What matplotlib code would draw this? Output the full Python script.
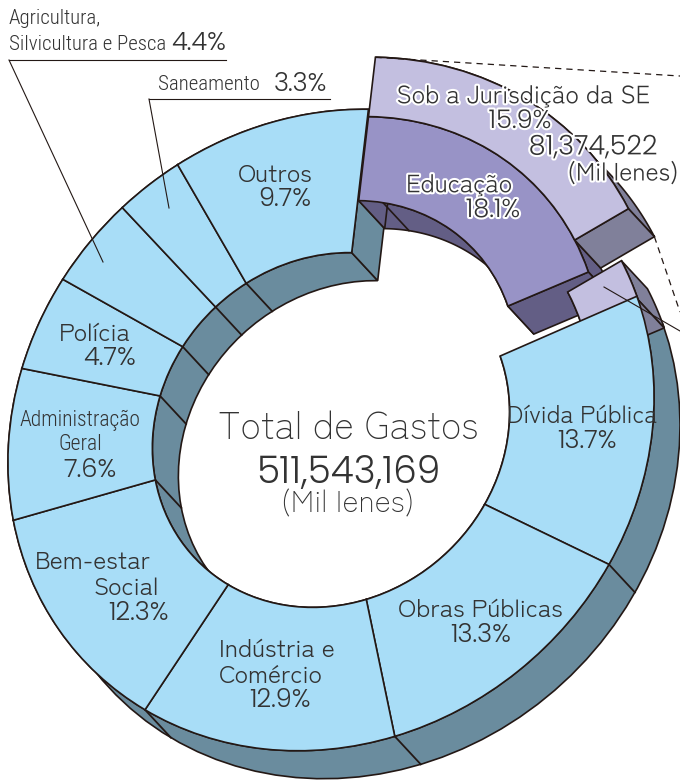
import numpy as np
import logging
import matplotlib
matplotlib.use("Agg")
import matplotlib.pyplot as plt
from matplotlib.patches import Wedge, Polygon
from matplotlib.transforms import Affine2D
import matplotlib.patheffects as pe

logging.getLogger('matplotlib.font_manager').setLevel(logging.ERROR)

# values (percent), clockwise starting at Divida Publica
main_names = ["Dívida Pública", "Obras Públicas", "Indústria e Comércio", "Bem-estar Social",
              "Administração Geral", "Polícia", "Agricultura, Silvicultura e Pesca", "Saneamento", "Outros"]
main_values = [13.7, 13.3, 12.9, 12.3, 7.6, 4.7, 4.4, 3.3, 9.7]
education_total = 18.1
education_se = 15.9
total_label = "511,543,169"
se_label = "81,374,522"

RING = "#A8DDF7"; RING_W = "#6A8C9E"
EDU = "#9893C6"; EDU_W = "#635E85"
SE = "#C3BFE0"; SE_W = "#80809A"
INK = "#231815"; TXT = "#333333"

MAIN_FONT = ['Zen Kaku Gothic New', 'Noto Sans', 'DejaVu Sans']
NUM_FONT = ['Poppins', 'Noto Sans', 'DejaVu Sans']
NARROW = ['Roboto Condensed', 'Liberation Sans Narrow', 'Roboto', 'DejaVu Sans']
plt.rcParams['font.family'] = MAIN_FONT
fig = plt.figure(figsize=(6.8, 7.81), dpi=100)
ax = fig.add_axes([0, 0, 1, 1])
ax.set_xlim(0, 680); ax.set_ylim(781, 0); ax.axis('off')

geom = Affine2D().scale(338, 305).rotate_deg(43).scale(1, -1).translate(331, 430)
DEPTH = np.array([26.0, 28.0])
LIFT = np.array([7.0, -52.0])
R_IN, R_MID = 0.553, 0.815
LW = 1.2
DEG = 360 / 99.8
START = -21.3


def pts(r, a1, a2, shift=(0, 0)):
    t = np.radians(np.linspace(a1, a2, 80))
    return geom.transform(np.c_[r * np.cos(t), r * np.sin(t)]) + np.asarray(shift)


def bands(a1, a2, r0, r1, color, shift=(0, 0), z=1):
    for r in (r0, r1):
        p = pts(r, a1, a2, shift)
        ax.add_patch(Polygon(np.r_[p, (p + DEPTH)[::-1]], closed=True, fc=color, ec=INK, lw=LW, zorder=z))


def cap(a, r0, r1, color, shift=(0, 0), z=1):
    q0 = pts(r0, a, a, shift)[0]; q1 = pts(r1, a, a, shift)[0]
    ax.add_patch(Polygon([q0, q1, q1 + DEPTH, q0 + DEPTH], closed=True, fc=color, ec=INK, lw=LW, zorder=z))


def top(a1, a2, r0, r1, color, shift=(0, 0), z=5):
    tr = geom + Affine2D().translate(*shift) + ax.transData
    ax.add_patch(Wedge((0, 0), r1, a1, a2, width=r1 - r0, fc=color, ec=INK, lw=LW, transform=tr, zorder=z))


# main ring
edges = START - np.r_[0, np.cumsum(main_values)] * DEG
bands(edges[-1], edges[0], R_IN, 1.0, RING_W, z=1)
cap(edges[-1], R_IN, 1.0, RING_W, z=1)
for a in edges[1:-1]:
    for r in (R_IN, 1.0):
        p = pts(r, a, a)[0]
        ax.plot([p[0], p[0] + DEPTH[0]], [p[1], p[1] + DEPTH[1]], color=INK, lw=1.3, zorder=1.5)
for v in range(len(main_values)):
    top(edges[v + 1], edges[v], R_IN, 1.0, RING, z=5)

# education, lifted out of the ring
edu_hi = edges[-1]
edu_lo = edu_hi - education_total * DEG
se_lo = edu_hi - education_se * DEG
bands(edu_lo, edu_hi, R_IN, R_MID, EDU_W, shift=LIFT, z=2)
cap(edu_lo, R_IN, R_MID, EDU_W, shift=LIFT, z=2)
cap(edu_hi, R_IN, R_MID, EDU_W, shift=LIFT, z=2)
split = edu_hi - (education_total - education_se) * DEG
q = pts(R_IN, split, split, LIFT)[0]
ax.plot([q[0], q[0] + DEPTH[0]], [q[1], q[1] + DEPTH[1]], color=INK, lw=LW, zorder=2.2)
bands(se_lo, edu_hi, R_MID, 1.0, SE_W, shift=LIFT, z=2.4)
cap(se_lo, R_MID, 1.0, SE_W, shift=LIFT, z=2.4)
top(edu_lo, edu_hi, R_IN, R_MID, EDU, shift=LIFT, z=3)
top(se_lo, edu_hi, R_MID, 1.0, SE, shift=LIFT, z=3)

# remaining part of education that stays in the ring
bands(edu_lo, se_lo, R_MID, 1.0, SE_W, z=3.5)
cap(edu_lo, R_MID, 1.0, SE_W, z=3.5)
top(edu_lo, se_lo, R_MID, 1.0, SE, z=4)

# dashed and leader lines
dash = dict(color=INK, lw=0.9, ls=(0, (5, 4)), zorder=6)
a_top = pts(1.0, edu_hi, edu_hi, LIFT)[0]
a_end = pts(1.0, se_lo, se_lo, LIFT)[0] + DEPTH
ax.plot([a_top[0], 680], [a_top[1], 76], **dash)
ax.plot([a_end[0], 680], [a_end[1], 312], **dash)
lead = dict(color=INK, lw=0.8, zorder=6)
ax.plot([604, 680], [287, 331], **lead)
ax.plot([9, 226], [60, 60], **lead)
ax.plot([9, 103], [60, 262], **lead)
ax.plot([149, 330], [99, 99], **lead)
ax.plot([149, 169], [99, 208], **lead)


def T(x, y, s, size=18, family=None, ha='center', halo=False, weight=400):
    t = ax.text(x, y, s, fontsize=size, color=TXT, ha=ha, va='center', zorder=8,
                family=family or MAIN_FONT, fontweight=weight)
    if halo:
        t.set_path_effects([pe.withStroke(linewidth=3, foreground='white')])


def N(x, y, s, size=18.5, ha='center', halo=False):
    T(x, y, s, size, NUM_FONT, ha=ha, halo=halo, weight=300)


def C(x, y, s, size=15):
    T(x, y, s, size, NARROW, ha='left', weight=300)


T(348, 429, "Total de Gastos", 27, weight=300)
N(348, 474, total_label, 27)
T(348, 505, "(Mil Ienes)", 22, weight=300)
T(275, 176, "Outros"); N(285, 200, "9.7%")
C(9, 19, "Agricultura,")
C(9, 44, "Silvicultura e Pesca")
N(226, 44, "4.4%", ha='right')
C(158, 85, "Saneamento")
N(327, 85, "3.3%", ha='right')
T(95, 335, "Polícia"); N(110, 359, "4.7%")
T(80, 420, "Administração", 15.5, NARROW, weight=300)
T(80, 445, "Geral", 15.5, NARROW, weight=300)
N(90, 471, "7.6%")
T(93, 563, "Bem-estar"); T(126, 589, "Social"); N(138, 614, "12.3%")
T(277, 651, "Indústria e"); T(271, 677, "Comércio"); N(280, 701, "12.9%")
T(480, 611, "Obras Públicas"); N(481, 636, "13.3%")
T(582, 417, "Dívida Pública", 17.5); N(587, 442, "13.7%")
T(523, 97, "Sob a Jurisdição da SE", halo=True); N(520, 122, "15.9%", halo=True)
N(593, 148, se_label, 19.5, halo=True); T(623, 174, "(Mil Ienes)", halo=True)
T(459, 186, "Educação", halo=True); N(493, 211, "18.1%", halo=True)

fig.savefig("out.png", dpi=100)
